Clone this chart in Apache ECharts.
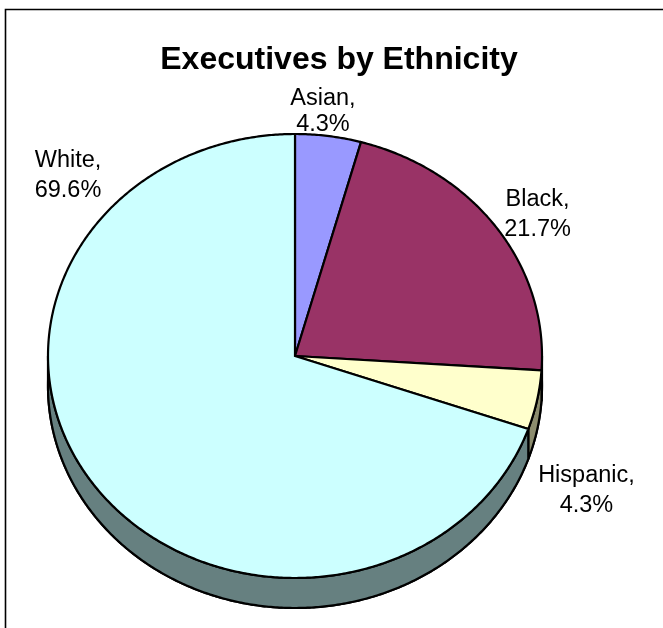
<!DOCTYPE html>
<html><head><meta charset="utf-8">
<script src="https://cdn.jsdelivr.net/npm/echarts@6/dist/echarts.min.js"></script>
<style>html,body{margin:0;padding:0;background:#fff}#c{width:663px;height:628px}</style>
</head><body><div id="c"></div>
<script>
// ---- data ----
const categories = ['Asian', 'Black', 'Hispanic', 'White'];
const values = [4.3, 21.7, 4.3, 69.6];
const titleText = 'Executives by Ethnicity';

// ---- style / layout ----
const topColors = ['#9999FF', '#993366', '#FFFFCC', '#CCFFFF'];
const sideColors = ['#4d4d80', '#4d1a33', '#8c8c6e', '#668080'];
const labelPlace = [[0.113, -1.102], [0.982, -0.637], [1.180, 0.604], [-0.919, -0.815]]; // in pie-radius units
const G = { cx: 295, cy: 356, rx: 247, ry: 222, depth: 30 };
const FONT = '"Liberation Sans", Arial, sans-serif';

const total = values.reduce((a, b) => a + b, 0);
const starts = [];
let acc = 0;
values.forEach(v => { starts.push(acc / total * 360); acc += v; });

function pt(deg, dy) {
  const a = deg * Math.PI / 180;
  return [G.cx + G.rx * Math.sin(a), G.cy + dy - G.ry * Math.cos(a)];
}
function arc(a0, a1, dy) {
  const n = Math.max(2, Math.ceil((a1 - a0) * 2));
  const p = [];
  for (let i = 0; i <= n; i++) p.push(pt(a0 + (a1 - a0) * i / n, dy));
  return p;
}
function span(i, api) {
  const a0 = starts[i];
  const a1 = a0 + api.value(1) / total * 360;
  return [a0, a1];
}

const chart = echarts.init(document.getElementById('c'), null, { renderer: 'canvas' });
const seriesData = values.map((v, i) => ({ name: categories[i], value: [i, v] }));

chart.setOption({
  animation: false,
  backgroundColor: '#fff',
  title: {
    text: titleText, left: 334, top: 39, textAlign: 'center',
    textStyle: { fontFamily: FONT, fontWeight: 'bold', fontSize: 32, color: '#000' }
  },
  graphic: [{
    type: 'rect', shape: { x: 5.5, y: 9.5, width: 720, height: 720 },
    style: { fill: null, stroke: '#000', lineWidth: 1.6 }, z: 0
  }],
  series: [
    {
      type: 'custom', coordinateSystem: 'none', z: 1, data: seriesData,
      renderItem: function (params, api) {
        const i = params.dataIndex;
        const [a0, a1] = span(i, api);
        const b0 = Math.max(a0, 90), b1 = Math.min(a1, 270);
        const children = [];
        children.push({
          type: 'polygon',
          shape: { points: [[G.cx, G.cy + G.depth]].concat(arc(a0, a1, G.depth)) },
          style: { fill: sideColors[i], stroke: '#000', lineWidth: 2.2, lineJoin: 'round' }
        });
        if (b0 < b1) {
          children.push({
            type: 'polygon',
            shape: { points: arc(b0, b1, 0).concat(arc(b0, b1, G.depth).reverse()) },
            style: { fill: sideColors[i], stroke: '#000', lineWidth: 2.2, lineJoin: 'round' }
          });
        }
        return { type: 'group', children: children };
      }
    },
    {
      type: 'custom', coordinateSystem: 'none', z: 2, data: seriesData,
      renderItem: function (params, api) {
        const i = params.dataIndex;
        const [a0, a1] = span(i, api);
        return {
          type: 'polygon',
          shape: { points: [[G.cx, G.cy]].concat(arc(a0, a1, 0)) },
          style: { fill: topColors[i], stroke: '#000', lineWidth: 2.2, lineJoin: 'miter' }
        };
      }
    },
    {
      type: 'custom', coordinateSystem: 'none', z: 3, data: seriesData,
      renderItem: function (params, api) {
        const i = params.dataIndex;
        const pct = api.value(1).toFixed(1) + '%';
        return {
          type: 'text',
          x: G.cx + labelPlace[i][0] * G.rx,
          y: G.cy + labelPlace[i][1] * G.ry,
          style: {
            text: categories[i] + ',\n' + pct,
            fill: '#000', fontFamily: FONT, fontSize: 23.5,
            lineHeight: i === 0 ? 26 : 30, align: 'center', verticalAlign: 'middle'
          }
        };
      }
    }
  ]
});
</script></body></html>
